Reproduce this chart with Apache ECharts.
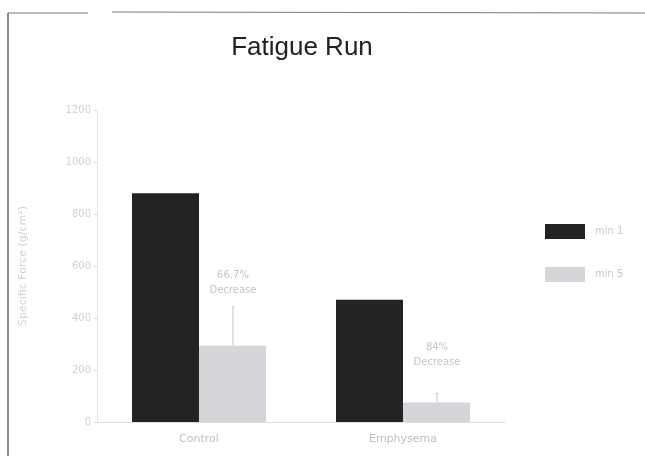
<!DOCTYPE html>
<html>
<head>
<meta charset="utf-8">
<script src="https://cdn.jsdelivr.net/npm/echarts@6/dist/echarts.min.js"></script>
<style>
  html, body { margin: 0; padding: 0; background: #fff; }
  #chart { width: 645px; height: 456px; }
</style>
</head>
<body>
<div id="chart"></div>
<script>
// Specific force before and after the fatigue run
const groups = ['Control', 'Emphysema'];
const seriesNames = ['min 1', 'min 5'];
const startForce = [880, 470];
const endForce = [293, 75];
const endError = [150, 35];
const decreaseText = ['66.7%\nDecrease', '84%\nDecrease'];
const decreaseLabelY = [535, 258];
const yTicks = [0, 200, 400, 600, 800, 1000, 1200];

const chart = echarts.init(document.getElementById('chart'));

const option = {
  backgroundColor: '#fff',
  animation: false,
  title: {
    text: 'Fatigue Run',
    left: 302,
    top: 35,
    textAlign: 'center',
    padding: 0,
    textStyle: { fontFamily: 'Liberation Sans', fontSize: 26, fontWeight: 'normal', color: '#222' }
  },
  legend: {
    orient: 'vertical',
    left: 545,
    top: 224,
    padding: 0,
    itemWidth: 40,
    itemHeight: 15,
    itemGap: 28,
    icon: 'rect',
    textStyle: { color: '#c8c8c8', fontSize: 10, fontFamily: 'DejaVu Sans', padding: [0, 0, 0, 5] },
    data: seriesNames
  },
  graphic: [
    { type: 'line', shape: { x1: 8, y1: 13, x2: 88, y2: 13 }, style: { stroke: '#777', lineWidth: 1 } },
    { type: 'line', shape: { x1: 112, y1: 12, x2: 645, y2: 13 }, style: { stroke: '#777', lineWidth: 1 } },
    { type: 'line', shape: { x1: 8, y1: 13, x2: 8, y2: 456 }, style: { stroke: '#666', lineWidth: 1.5 } }
  ],
  grid: { left: 97, right: 140, top: 110, bottom: 34 },
  xAxis: {
    type: 'category',
    data: groups,
    axisLine: { lineStyle: { color: '#e0e0e0' } },
    axisTick: { show: false },
    axisLabel: { color: '#bdbdbd', fontSize: 11, fontFamily: 'DejaVu Sans', margin: 12 }
  },
  yAxis: {
    type: 'value',
    min: 0,
    max: 1200,
    interval: 200,
    name: 'Specific Force (g/cm²)',
    nameLocation: 'middle',
    nameGap: 68,
    nameTextStyle: { color: '#d2d2d2', fontSize: 11, fontFamily: 'DejaVu Sans', padding: [0, 0, 0, 0] },
    axisLine: { show: true, lineStyle: { color: '#e8e8e8' } },
    axisTick: { show: true, length: 3, lineStyle: { color: '#d8d8d8' } },
    splitLine: { show: false },
    axisLabel: {
      color: '#d0d0d0', fontSize: 10, fontFamily: 'DejaVu Sans', margin: 6,
      formatter: v => yTicks.includes(v) ? String(v) : ''
    }
  },
  series: [
    {
      name: seriesNames[0],
      type: 'bar',
      data: startForce,
      barWidth: 67,
      barGap: '0%',
      itemStyle: { color: '#232323' }
    },
    {
      name: seriesNames[1],
      type: 'bar',
      data: endForce,
      barWidth: 67,
      barGap: '0%',
      itemStyle: { color: '#d6d6da' }
    },
    {
      // upper error bars on the end-of-run bars
      type: 'custom',
      silent: true,
      z: 5,
      data: groups.map((g, i) => [i, endForce[i], endForce[i] + endError[i]]),
      renderItem: function (params, api) {
        const base = api.coord([api.value(0), api.value(1)]);
        const top = api.coord([api.value(0), api.value(2)]);
        const x = base[0] + 34;
        return {
          type: 'group',
          children: [
            { type: 'line', shape: { x1: x, y1: base[1], x2: x, y2: top[1] }, style: { stroke: '#c4c4c4', lineWidth: 1 } },
            { type: 'line', shape: { x1: x - 1.5, y1: top[1], x2: x + 1.5, y2: top[1] }, style: { stroke: '#c4c4c4', lineWidth: 1 } }
          ]
        };
      }
    },
    {
      // percent-decrease notes above the end-of-run bars
      type: 'custom',
      silent: true,
      z: 6,
      data: groups.map((g, i) => [i, decreaseLabelY[i]]),
      renderItem: function (params, api) {
        const p = api.coord([api.value(0), api.value(1)]);
        return {
          type: 'text',
          x: p[0] + 34,
          y: p[1],
          style: {
            text: decreaseText[params.dataIndex],
            align: 'center',
            verticalAlign: 'middle',
            fill: '#c4c4c4',
            fontSize: 10,
            lineHeight: 15,
            fontFamily: 'DejaVu Sans'
          }
        };
      }
    }
  ]
};

chart.setOption(option);
</script>
</body>
</html>
